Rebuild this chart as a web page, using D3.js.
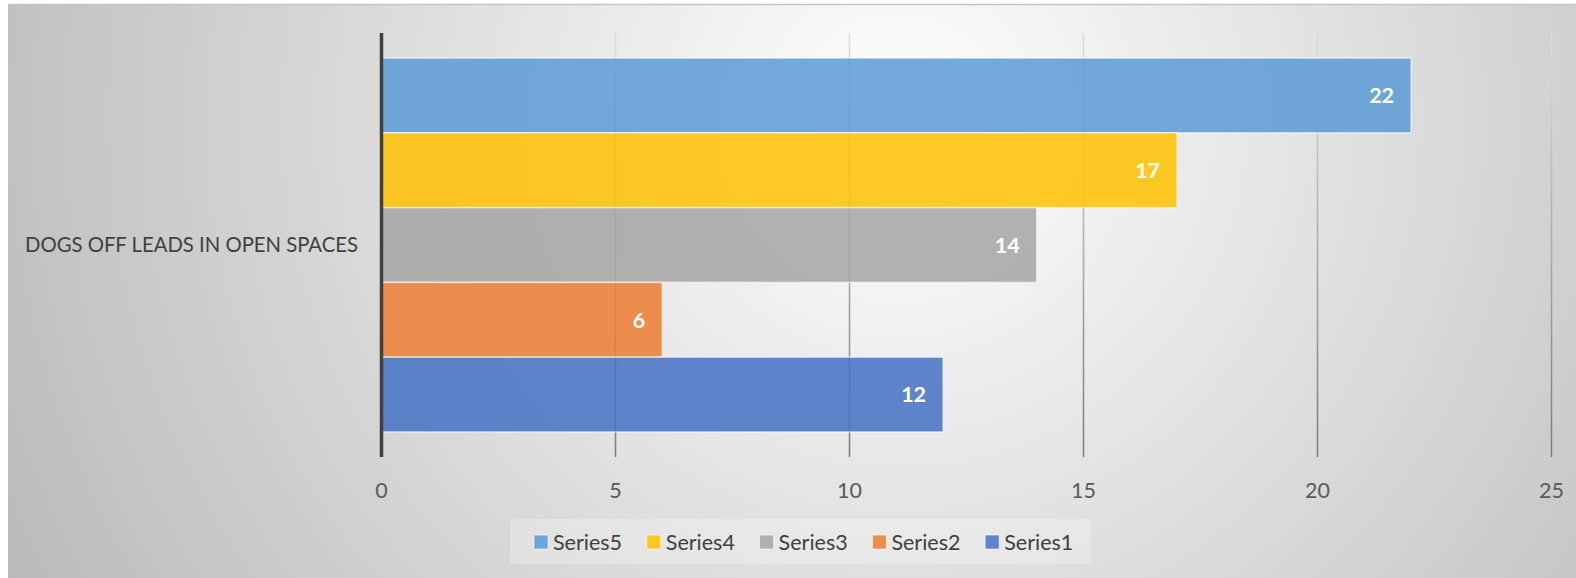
<!DOCTYPE html>
<html lang="en">
<head>
<meta charset="UTF-8">
<title>Dogs off leads</title>
<script src="https://d3js.org/d3.v7.min.js"></script>
<style>
  body { margin: 0; background: #fff; }
  text { font-family: Lato, "Open Sans", sans-serif; }
</style>
</head>
<body>
<svg id="chart" width="1576" height="578"></svg>
<script>
// data
const categories = ['DOGS OFF LEADS IN OPEN SPACES']
const seriesNames = ['Series5', 'Series4', 'Series3', 'Series2', 'Series1']
const seriesValues = [22, 17, 14, 6, 12]
const colors = ['#5B9BD5', '#FFC000', '#A5A5A5', '#ED7D31', '#4472C4']
const xTicks = [0, 5, 10, 15, 20, 25]

const svg = d3.select('#chart')
const W = 1576, H = 578

// background gradient
const defs = svg.append('defs')
const bg = defs.append('radialGradient')
    .attr('id', 'bg').attr('gradientUnits', 'userSpaceOnUse')
    .attr('cx', 900).attr('cy', 120).attr('r', 1000)
bg.append('stop').attr('offset', 0).attr('stop-color', '#ffffff')
bg.append('stop').attr('offset', 1).attr('stop-color', '#bababa')

const gridGrad = defs.append('linearGradient')
    .attr('id', 'grid').attr('gradientUnits', 'userSpaceOnUse')
    .attr('x1', 0).attr('y1', 33).attr('x2', 0).attr('y2', 457)
gridGrad.append('stop').attr('offset', 0).attr('stop-color', '#dcdcdc')
gridGrad.append('stop').attr('offset', 1).attr('stop-color', '#7a7a7a')

svg.append('rect').attr('x', 8).attr('y', 4).attr('width', W - 8).attr('height', H - 4)
    .attr('fill', 'url(#bg)')
svg.append('line').attr('x1', 8).attr('x2', W).attr('y1', 4.5).attr('y2', 4.5)
    .attr('stroke', '#c4c4c4').attr('stroke-width', 1.5)

const x = d3.scaleLinear().domain([0, 25]).range([381.5, 1551.5])
const y0 = d3.scaleBand().domain(categories).range([33, 457])
const y1 = d3.scaleBand().domain(seriesNames).range([0, y0.bandwidth()])
    .paddingInner(0).paddingOuter(0.335)

// gridlines
svg.append('g').selectAll('line')
    .data(xTicks.slice(1))
    .join('line')
    .attr('x1', d => x(d)).attr('x2', d => x(d) + 0.01)
    .attr('y1', 33).attr('y2', 457)
    .attr('stroke', 'url(#grid)').attr('stroke-width', 1.5)

// bars
const rows = seriesNames.map((s, i) => ({ name: s, value: seriesValues[i], color: colors[i] }))
const cat = svg.append('g').attr('transform', `translate(0,${y0(categories[0])})`)
cat.selectAll('rect')
    .data(rows)
    .join('rect')
    .attr('x', x(0))
    .attr('y', d => y1(d.name))
    .attr('width', d => x(d.value) - x(0))
    .attr('height', y1.bandwidth())
    .attr('fill', d => d.color)
    .attr('fill-opacity', 0.85)
    .attr('stroke', 'rgba(255,255,255,0.6)')
    .attr('stroke-width', 1.5)

cat.selectAll('text.val')
    .data(rows)
    .join('text')
    .classed('val', true)
    .attr('x', d => x(d.value) - 17)
    .attr('y', d => y1(d.name) + y1.bandwidth() / 2)
    .attr('dy', '0.36em')
    .attr('text-anchor', 'end')
    .attr('fill', '#fff')
    .attr('font-weight', 'bold')
    .attr('font-size', 21.5)
    .text(d => d.value)

// axis line
svg.append('line').attr('x1', x(0)).attr('x2', x(0)).attr('y1', 33).attr('y2', 457)
    .attr('stroke', '#404040').attr('stroke-width', 3.5)

// tick labels
svg.append('g').selectAll('text')
    .data(xTicks)
    .join('text')
    .attr('x', d => x(d))
    .attr('y', 490)
    .attr('dy', '0.36em')
    .attr('text-anchor', 'middle')
    .attr('fill', '#595959')
    .attr('font-size', 21.5)
    .text(d => d)

// category label
svg.append('text')
    .attr('x', 358)
    .attr('y', y0(categories[0]) + y0.bandwidth() / 2)
    .attr('dy', '0.36em')
    .attr('text-anchor', 'end')
    .attr('fill', '#404040')
    .attr('font-size', 20.3)
    .text(categories[0])

// legend
svg.append('rect').attr('x', 510).attr('y', 519).attr('width', 581).attr('height', 45)
    .attr('fill', '#ffffff').attr('fill-opacity', 0.25)
const leg = svg.append('g').selectAll('g')
    .data(rows)
    .join('g')
    .attr('transform', (d, i) => `translate(${534 + i * 112.8},535)`)
leg.append('rect').attr('width', 14).attr('height', 14)
    .attr('fill', d => d.color).attr('fill-opacity', 0.85)
    .attr('stroke', 'rgba(255,255,255,0.6)')
leg.append('text')
    .attr('x', 19).attr('y', 7.5).attr('dy', '0.36em')
    .attr('fill', '#404040')
    .attr('font-size', 21.5)
    .text(d => d.name)
</script>
</body>
</html>
